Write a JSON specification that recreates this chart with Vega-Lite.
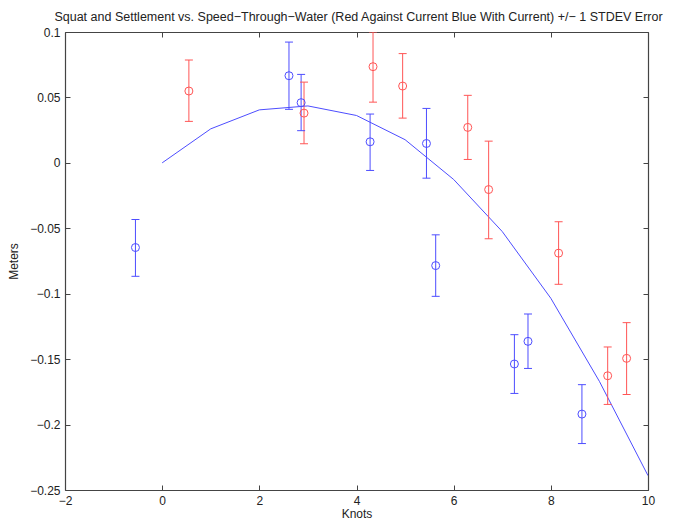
{
  "$schema": "https://vega.github.io/schema/vega-lite/v6.json",
  "width": 583,
  "height": 458,
  "autosize": "none",
  "padding": {"left": 65, "top": 32, "right": 31, "bottom": 31},
  "background": "white",
  "title": {
    "text": "Squat and Settlement vs. Speed−Through−Water (Red Against Current Blue With Current) +/− 1 STDEV Error",
    "font": "Liberation Sans",
    "fontSize": 12.5,
    "fontWeight": "normal",
    "color": "#222222",
    "frame": "group",
    "dx": 2,
    "offset": 3
  },
  "config": {
    "view": {"stroke": null},
    "axis": {
      "labelFont": "Liberation Sans",
      "labelFontSize": 12,
      "labelColor": "#222222",
      "titleFont": "Liberation Sans",
      "titleFontSize": 12,
      "titleFontWeight": "normal",
      "titleColor": "#222222",
      "domainColor": "#444444",
      "domainWidth": 1.2,
      "tickColor": "#444444",
      "tickSize": -5,
      "grid": false
    }
  },
  "datasets": {
    "obs": [
      {"knots": 0.55, "meters": 0.0549, "lo": 0.0317, "hi": 0.0786, "current": "Against"},
      {"knots": 2.92, "meters": 0.038, "lo": 0.0146, "hi": 0.0617, "current": "Against"},
      {"knots": 4.34, "meters": 0.0735, "lo": 0.0464, "hi": 0.1, "current": "Against"},
      {"knots": 4.95, "meters": 0.0587, "lo": 0.0342, "hi": 0.0835, "current": "Against"},
      {"knots": 6.29, "meters": 0.0271, "lo": 0.0026, "hi": 0.0516, "current": "Against"},
      {"knots": 6.72, "meters": -0.0204, "lo": -0.058, "hi": 0.0166, "current": "Against"},
      {"knots": 8.16, "meters": -0.069, "lo": -0.0928, "hi": -0.045, "current": "Against"},
      {"knots": 9.17, "meters": -0.1627, "lo": -0.1846, "hi": -0.1407, "current": "Against"},
      {"knots": 9.56, "meters": -0.1494, "lo": -0.177, "hi": -0.1221, "current": "Against"},
      {"knots": -0.55, "meters": -0.0647, "lo": -0.0867, "hi": -0.0433, "current": "With"},
      {"knots": 2.61, "meters": 0.0666, "lo": 0.0409, "hi": 0.0923, "current": "With"},
      {"knots": 2.86, "meters": 0.046, "lo": 0.0246, "hi": 0.0676, "current": "With"},
      {"knots": 4.28, "meters": 0.0161, "lo": -0.0058, "hi": 0.0373, "current": "With"},
      {"knots": 5.44, "meters": 0.0148, "lo": -0.0117, "hi": 0.0416, "current": "With"},
      {"knots": 5.63, "meters": -0.0785, "lo": -0.102, "hi": -0.055, "current": "With"},
      {"knots": 7.25, "meters": -0.1537, "lo": -0.1762, "hi": -0.1313, "current": "With"},
      {"knots": 7.53, "meters": -0.1364, "lo": -0.1571, "hi": -0.1155, "current": "With"},
      {"knots": 8.64, "meters": -0.192, "lo": -0.2145, "hi": -0.1695, "current": "With"}
    ],
    "fit": [
      {"knots": 0, "meters": 0},
      {"knots": 1, "meters": 0.026},
      {"knots": 2, "meters": 0.0405},
      {"knots": 3, "meters": 0.0435},
      {"knots": 4, "meters": 0.0362},
      {"knots": 5, "meters": 0.0177},
      {"knots": 6, "meters": -0.0127},
      {"knots": 7, "meters": -0.0525},
      {"knots": 8, "meters": -0.1035},
      {"knots": 9, "meters": -0.167},
      {"knots": 10, "meters": -0.239}
    ]
  },
  "layer": [
    {
      "data": {"name": "fit"},
      "mark": {"type": "line", "color": "#4d4dff", "strokeWidth": 1, "clip": true},
      "encoding": {
        "x": {
          "field": "knots", "type": "quantitative",
          "scale": {"domain": [-2, 10], "nice": false, "zero": false},
          "axis": {"orient": "bottom", "title": "Knots", "values": [-2, 0, 2, 4, 6, 8, 10], "labelPadding": 10, "titlePadding": 2, "labelFlush": false}
        },
        "y": {
          "field": "meters", "type": "quantitative",
          "scale": {"domain": [-0.25, 0.1], "nice": false, "zero": false},
          "axis": {"orient": "left", "title": "Meters", "format": ".2~f", "values": [-0.25, -0.2, -0.15, -0.1, -0.05, 0, 0.05, 0.1], "labelPadding": 10, "titlePadding": 9, "labelFlush": false}
        }
      }
    },
    {
      "data": {"name": "fit"},
      "mark": {"type": "line", "opacity": 0, "clip": true},
      "encoding": {
        "x": {
          "field": "knots", "type": "quantitative",
          "axis": {"orient": "top", "title": null, "labels": false, "values": [-2, 0, 2, 4, 6, 8, 10]}
        },
        "y": {
          "field": "meters", "type": "quantitative",
          "axis": {"orient": "right", "title": null, "labels": false, "values": [-0.25, -0.2, -0.15, -0.1, -0.05, 0, 0.05, 0.1]}
        }
      }
    },
    {
      "data": {"name": "obs"},
      "mark": {"type": "rule", "strokeWidth": 1, "clip": true},
      "encoding": {
        "x": {"field": "knots", "type": "quantitative", "axis": null},
        "y": {"field": "lo", "type": "quantitative", "axis": null},
        "y2": {"field": "hi"},
        "color": {"field": "current", "type": "nominal", "scale": {"domain": ["Against", "With"], "range": ["#ff5555", "#4d4dff"]}, "legend": null}
      }
    },
    {
      "data": {"name": "obs"},
      "mark": {"type": "tick", "orient": "horizontal", "size": 8, "thickness": 1, "opacity": 1, "clip": true},
      "encoding": {
        "x": {"field": "knots", "type": "quantitative", "axis": null},
        "y": {"field": "lo", "type": "quantitative", "axis": null},
        "color": {"field": "current", "type": "nominal", "legend": null}
      }
    },
    {
      "data": {"name": "obs"},
      "mark": {"type": "tick", "orient": "horizontal", "size": 8, "thickness": 1, "opacity": 1, "clip": true},
      "encoding": {
        "x": {"field": "knots", "type": "quantitative", "axis": null},
        "y": {"field": "hi", "type": "quantitative", "axis": null},
        "color": {"field": "current", "type": "nominal", "legend": null}
      }
    },
    {
      "data": {"name": "obs"},
      "mark": {"type": "point", "shape": "circle", "filled": false, "size": 64, "strokeWidth": 1, "opacity": 1},
      "encoding": {
        "x": {"field": "knots", "type": "quantitative", "axis": null},
        "y": {"field": "meters", "type": "quantitative", "axis": null},
        "color": {"field": "current", "type": "nominal", "legend": null}
      }
    }
  ],
  "resolve": {"axis": {"x": "independent", "y": "independent"}}
}
